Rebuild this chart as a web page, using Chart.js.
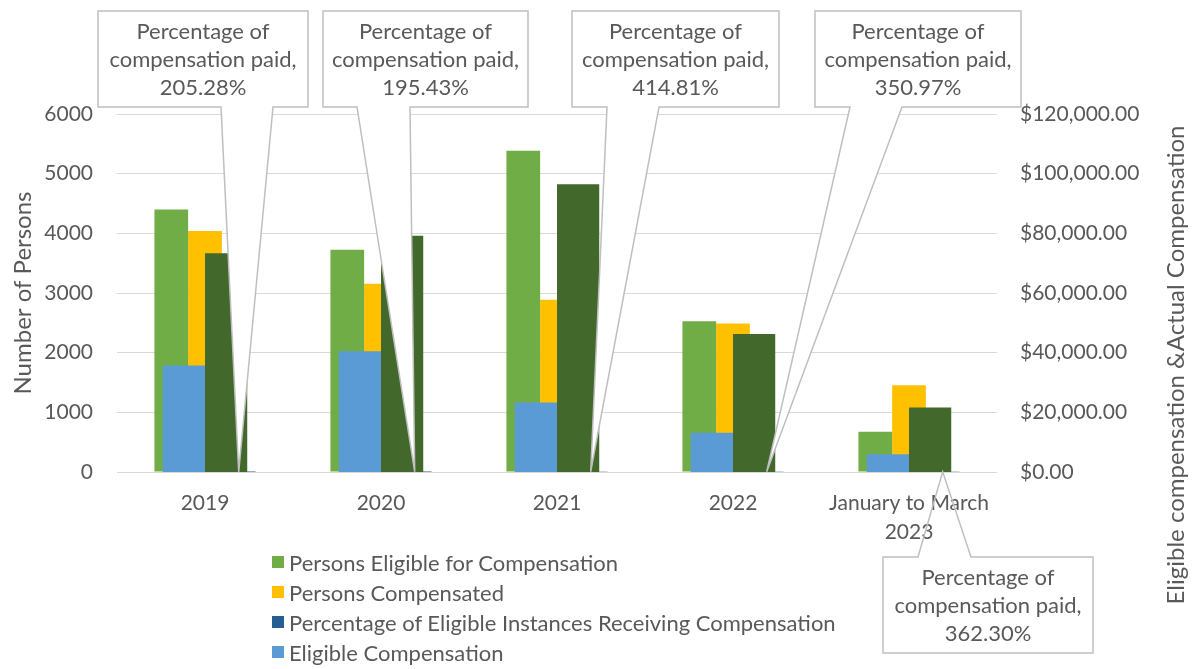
<!DOCTYPE html>
<html>
<head>
<meta charset="utf-8">
<script src="https://cdn.jsdelivr.net/npm/chart.js@4.4.1/dist/chart.umd.min.js"></script>
<style>
  html, body { margin: 0; padding: 0; background: #fff; }
  #wrap { position: relative; width: 1193px; height: 669px; }
  #wrap canvas { position: absolute; left: 0; top: 0; }
  #legend { position: absolute; left: 272px; top: 547px; font-family: Lato, sans-serif; font-size: 22px; color: #595959; }
  #legend .row { display: flex; align-items: center; height: 30px; white-space: nowrap; }
  #legend .swatch { width: 12px; height: 12px; margin-right: 5px; display: inline-block; }
</style>
</head>
<body>
<div id="wrap">
  <canvas id="persons" width="1193" height="669"></canvas>
  <canvas id="money" width="1193" height="669"></canvas>
  <div id="legend"></div>
</div>
<script>
const categories = ["2019", "2020", "2021", "2022", ["January to March", "2023"]];

const personsEligible = [4400, 3725, 5385, 2525, 675];
const personsCompensated = [4040, 3155, 2885, 2490, 1455];
const pctEligibleInstances = [2.0528, 1.9543, 4.1481, 3.5097, 3.6230];
const eligibleCompensation = [35700, 40500, 23260, 13170, 5960];
const actualCompensation = [73300, 79150, 96490, 46230, 21600];

const calloutPrefix = ["Percentage of", "compensation paid,"];

// label boxes for the callouts; the tip is taken from the percentage bars
const calloutBoxes = [
  { l: 98, t: 11, w: 210, h: 96, b1: 221, b2: 273 },
  { l: 323, t: 11, w: 205, h: 96, b1: 357, b2: 410 },
  { l: 572, t: 11, w: 207, h: 96, b1: 607, b2: 659 },
  { l: 815, t: 11, w: 206, h: 96, b1: 850, b2: 902 },
  { l: 883, t: 557, w: 210, h: 96, b1: 918, b2: 971 },
];

const textColor = "#595959";
const fontFamily = "Lato, sans-serif";

Chart.defaults.font.family = fontFamily;
Chart.defaults.color = textColor;

const titlesPlugin = {
  id: "axisTitles",
  afterDraw(chart) {
    const ctx = chart.ctx;
    const area = chart.chartArea;
    ctx.save();
    ctx.fillStyle = textColor;
    ctx.font = "24px " + fontFamily;
    ctx.textAlign = "center";
    ctx.textBaseline = "middle";
    ctx.translate(23, (area.top + area.bottom) / 2);
    ctx.rotate(-Math.PI / 2);
    ctx.fillText("Number of Persons", 0, 0);
    ctx.restore();

    ctx.save();
    ctx.fillStyle = textColor;
    ctx.font = "24px " + fontFamily;
    ctx.textAlign = "center";
    ctx.textBaseline = "middle";
    ctx.translate(1176, 365);
    ctx.rotate(-Math.PI / 2);
    ctx.fillText("Eligible compensation &Actual Compensation", 0, 0);
    ctx.restore();
  },
};

// left-axis group
const personsChart = new Chart(document.getElementById("persons"), {
  type: "bar",
  data: {
    labels: categories,
    datasets: [
      { label: "Persons Eligible for Compensation", data: personsEligible, backgroundColor: "#70ad47" },
      { label: "Persons Compensated", data: personsCompensated, backgroundColor: "#ffc000" },
      { label: "Percentage of Eligible Instances Receiving Compensation", data: pctEligibleInstances, backgroundColor: "#255e91" },
    ],
  },
  options: {
    responsive: false,
    animation: false,
    layout: { padding: { top: 114, left: 0, right: 196, bottom: 0 } },
    datasets: { bar: { barPercentage: 1, categoryPercentage: 0.5745 } },
    plugins: { legend: { display: false }, tooltip: { enabled: false } },
    scales: {
      x: {
        grid: { display: false },
        border: { display: false },
        ticks: { color: textColor, font: { size: 21, lineHeight: 1.38 }, padding: 9, maxRotation: 0, autoSkip: false },
        afterFit: (s) => { s.height = 197; },
      },
      y: {
        min: 0,
        max: 6000,
        ticks: { stepSize: 1000, color: textColor, font: { size: 21 }, padding: 24, callback: (v) => String(v) },
        grid: { color: "#d9d9d9", lineWidth: 1, drawTicks: false },
        border: { display: false },
        afterFit: (s) => { s.width = 117; },
      },
    },
  },
  plugins: [titlesPlugin],
});

const calloutPlugin = {
  id: "callouts",
  afterDatasetsDraw(chart) {
    const ctx = chart.ctx;
    const area = chart.chartArea;
    const meta = personsChart.getDatasetMeta(2);
    calloutBoxes.forEach((b, i) => {
      const bar = meta.data[i];
      const px = bar.x, py = bar.y;
      const below = b.t > py;
      const edge = below ? b.t : b.t + b.h;
      const r = b.l + b.w, bot = b.t + b.h;

      ctx.save();
      ctx.beginPath();
      ctx.rect(area.left, area.top, area.right - area.left, area.bottom - area.top + 1);
      ctx.clip();
      ctx.beginPath();
      ctx.moveTo(b.b1, edge);
      ctx.lineTo(px, py);
      ctx.lineTo(b.b2, edge);
      ctx.closePath();
      ctx.fillStyle = "#fff";
      ctx.fill();
      ctx.restore();

      ctx.save();
      ctx.fillStyle = "#fff";
      ctx.fillRect(b.l, b.t, b.w, b.h);
      ctx.beginPath();
      if (!below) {
        ctx.moveTo(b.l, b.t);
        ctx.lineTo(r, b.t);
        ctx.lineTo(r, bot);
        ctx.lineTo(b.b2, bot);
        ctx.lineTo(px, py);
        ctx.lineTo(b.b1, bot);
        ctx.lineTo(b.l, bot);
      } else {
        ctx.moveTo(b.l, b.t);
        ctx.lineTo(b.b1, b.t);
        ctx.lineTo(px, py);
        ctx.lineTo(b.b2, b.t);
        ctx.lineTo(r, b.t);
        ctx.lineTo(r, bot);
        ctx.lineTo(b.l, bot);
      }
      ctx.closePath();
      ctx.strokeStyle = "#bfbfbf";
      ctx.lineWidth = 1.5;
      ctx.stroke();

      const lines = calloutPrefix.concat([(pctEligibleInstances[i] * 100).toFixed(2) + "%"]);
      ctx.fillStyle = textColor;
      ctx.font = "22px " + fontFamily;
      ctx.textAlign = "center";
      ctx.textBaseline = "middle";
      const cx = b.l + b.w / 2;
      lines.forEach((s, k) => ctx.fillText(s, cx, b.t + 21 + k * 28));
      ctx.restore();
    });
  },
};

// right-axis group, drawn on top
const moneyChart = new Chart(document.getElementById("money"), {
  type: "bar",
  data: {
    labels: categories,
    datasets: [
      { label: "Eligible Compensation", data: eligibleCompensation, backgroundColor: "#5b9bd5", yAxisID: "y2" },
      { label: "Actual Compensation", data: actualCompensation, backgroundColor: "#43682b", yAxisID: "y2", hideInLegend: true },
    ],
  },
  options: {
    responsive: false,
    animation: false,
    layout: { padding: { top: 114, left: 117, right: 0, bottom: 197 } },
    datasets: { bar: { barPercentage: 1, categoryPercentage: 0.48 } },
    plugins: { legend: { display: false }, tooltip: { enabled: false } },
    scales: {
      x: { display: false, offset: true },
      y2: {
        position: "right",
        min: 0,
        max: 120000,
        ticks: {
          stepSize: 20000,
          color: textColor,
          font: { size: 21 },
          padding: 23,
          callback: (v) => "$" + v.toLocaleString("en-US", { minimumFractionDigits: 2, maximumFractionDigits: 2 }),
        },
        grid: { display: false, drawTicks: false },
        border: { display: false },
        afterFit: (s) => { s.width = 196; },
      },
    },
  },
  plugins: [calloutPlugin],
});

const legendEl = document.getElementById("legend");
personsChart.data.datasets.concat(moneyChart.data.datasets).forEach((ds) => {
  if (ds.hideInLegend) return;
  const row = document.createElement("div");
  row.className = "row";
  const sw = document.createElement("span");
  sw.className = "swatch";
  sw.style.background = ds.backgroundColor;
  const txt = document.createElement("span");
  txt.textContent = ds.label;
  row.appendChild(sw);
  row.appendChild(txt);
  legendEl.appendChild(row);
});
</script>
</body>
</html>
